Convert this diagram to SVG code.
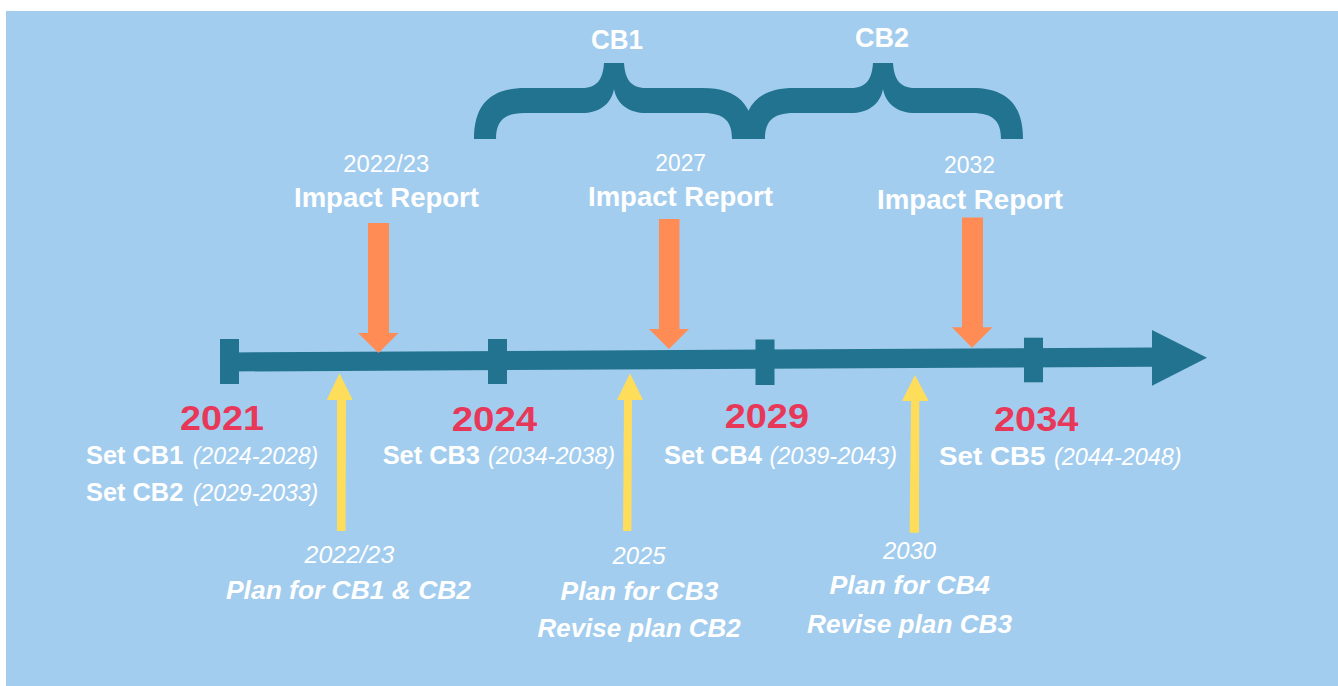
<svg xmlns="http://www.w3.org/2000/svg" width="1338" height="686" viewBox="0 0 1338 686">
<style>
text{font-family:"Liberation Sans",Arial,sans-serif;fill:#ffffff}
.b{font-weight:bold}
.i{font-style:italic}
.bi{font-weight:bold;font-style:italic}
.red{fill:#e8385a;font-weight:bold}
.teal{fill:#21738f}
.org{fill:#ff8c55}
.yel{fill:#fddd5a}
</style>
<defs>
<path id="brace" d="M474 139 C474 105 490 88 525 88 L582 88 C598 88 603 78 604 63 L624 63 C625 78 630 88 646 88 L703 88 C738 88 754 105 754 139 L732 139 C732 122 725 113 703 113 L646 113 C630 113 617 105 614 89 C611 105 598 113 582 113 L525 113 C503 113 496 122 496 139 Z"/>
</defs>
<rect x="6" y="11" width="1332" height="675" fill="#a3cdee"/>

<g id="timeline">
<polygon class="teal" points="230,352.5 1153,347.5 1153,366.7 230,371.5"/>
<polygon class="teal" points="1152,330 1207,357.7 1152,385.7"/>
<rect class="teal" x="220" y="339" width="19" height="45"/>
<rect class="teal" x="488" y="339" width="19" height="45"/>
<rect class="teal" x="755.5" y="339.5" width="19" height="45.5"/>
<rect class="teal" x="1024" y="337.7" width="19" height="44.6"/>
</g>

<g id="brace-cb1">
<use href="#brace" class="teal"/>
<text class="b" x="591" y="49" font-size="28" textLength="52" lengthAdjust="spacingAndGlyphs">CB1</text>
</g>
<g id="brace-cb2">
<use href="#brace" class="teal" transform="translate(269,0)"/>
<text class="b" x="855" y="46.5" font-size="28" textLength="54" lengthAdjust="spacingAndGlyphs">CB2</text>
</g>

<g id="connectors">
<polygon class="org" points="368,223 389,223 389,333 398.5,333 378.5,353 358,333 368,333"/>
<polygon class="org" points="659,219 679.5,219 679.5,329 689,329 669,349 649,329 659,329"/>
<polygon class="org" points="962,217.5 983,217.5 983,327.3 992.5,327.3 972,347.7 952,327.3 962,327.3"/>
<polygon class="yel" points="339.5,373.3 352.7,400 346,400 345.6,531 337,531 337,400 326.7,400"/>
<polygon class="yel" points="630,373.3 643,400 632,400 631.4,531 623,531 624,400 617,400"/>
<polygon class="yel" points="915,375 928.6,401 919.3,401 919,532.7 909.6,532.7 911,401 902,401"/>
</g>

<g id="report-2022">
<text x="343.3" y="172.3" font-size="23" textLength="86" lengthAdjust="spacingAndGlyphs">2022/23</text>
<text class="b" x="294" y="207.3" font-size="27.5" textLength="185" lengthAdjust="spacingAndGlyphs">Impact Report</text>
</g>
<g id="report-2027">
<text x="655.3" y="170.5" font-size="23" textLength="50.7" lengthAdjust="spacingAndGlyphs">2027</text>
<text class="b" x="588" y="205.5" font-size="27.5" textLength="185" lengthAdjust="spacingAndGlyphs">Impact Report</text>
</g>
<g id="report-2032">
<text x="944" y="173.3" font-size="23" textLength="51" lengthAdjust="spacingAndGlyphs">2032</text>
<text class="b" x="877" y="209" font-size="27.5" textLength="186" lengthAdjust="spacingAndGlyphs">Impact Report</text>
</g>

<g id="year-2021">
<text class="red" x="180" y="430" font-size="35" textLength="84" lengthAdjust="spacingAndGlyphs">2021</text>
<text class="b" x="86" y="464.3" font-size="25" textLength="97.3" lengthAdjust="spacingAndGlyphs">Set CB1</text>
<text class="i" x="192.7" y="464.3" font-size="23" textLength="125.6" lengthAdjust="spacingAndGlyphs">(2024-2028)</text>
<text class="b" x="86" y="501" font-size="25" textLength="97.3" lengthAdjust="spacingAndGlyphs">Set CB2</text>
<text class="i" x="192.7" y="501" font-size="23" textLength="125.6" lengthAdjust="spacingAndGlyphs">(2029-2033)</text>
</g>
<g id="year-2024">
<text class="red" x="451.7" y="430.7" font-size="35" textLength="85.6" lengthAdjust="spacingAndGlyphs">2024</text>
<text class="b" x="382.7" y="464.3" font-size="25" textLength="97.3" lengthAdjust="spacingAndGlyphs">Set CB3</text>
<text class="i" x="488" y="464.3" font-size="23" textLength="127" lengthAdjust="spacingAndGlyphs">(2034-2038)</text>
</g>
<g id="year-2029">
<text class="red" x="724.7" y="428.3" font-size="35" textLength="84.3" lengthAdjust="spacingAndGlyphs">2029</text>
<text class="b" x="664" y="464.3" font-size="25" textLength="98" lengthAdjust="spacingAndGlyphs">Set CB4</text>
<text class="i" x="769.5" y="464.3" font-size="23" textLength="127.5" lengthAdjust="spacingAndGlyphs">(2039-2043)</text>
</g>
<g id="year-2034">
<text class="red" x="994" y="431" font-size="35" textLength="84.4" lengthAdjust="spacingAndGlyphs">2034</text>
<text class="b" x="939" y="465" font-size="26.5" textLength="106.4" lengthAdjust="spacingAndGlyphs">Set CB5</text>
<text class="i" x="1054" y="465" font-size="23" textLength="127.6" lengthAdjust="spacingAndGlyphs">(2044-2048)</text>
</g>

<g id="plan-2022">
<text class="i" x="304.6" y="563.3" font-size="23.5" textLength="89.6" lengthAdjust="spacingAndGlyphs">2022/23</text>
<text class="bi" x="226" y="599.3" font-size="26.5" textLength="245" lengthAdjust="spacingAndGlyphs">Plan for CB1 &amp; CB2</text>
</g>
<g id="plan-2025">
<text class="i" x="612.6" y="564" font-size="23.5" textLength="52.9" lengthAdjust="spacingAndGlyphs">2025</text>
<text class="bi" x="560.6" y="600" font-size="26.5" textLength="157.8" lengthAdjust="spacingAndGlyphs">Plan for CB3</text>
<text class="bi" x="537.5" y="636.7" font-size="26.5" textLength="203.1" lengthAdjust="spacingAndGlyphs">Revise plan CB2</text>
</g>
<g id="plan-2030">
<text class="i" x="883" y="559" font-size="23.5" textLength="53" lengthAdjust="spacingAndGlyphs">2030</text>
<text class="bi" x="829.4" y="594.3" font-size="26.5" textLength="160.4" lengthAdjust="spacingAndGlyphs">Plan for CB4</text>
<text class="bi" x="807" y="632.7" font-size="26.5" textLength="205" lengthAdjust="spacingAndGlyphs">Revise plan CB3</text>
</g>
</svg>
